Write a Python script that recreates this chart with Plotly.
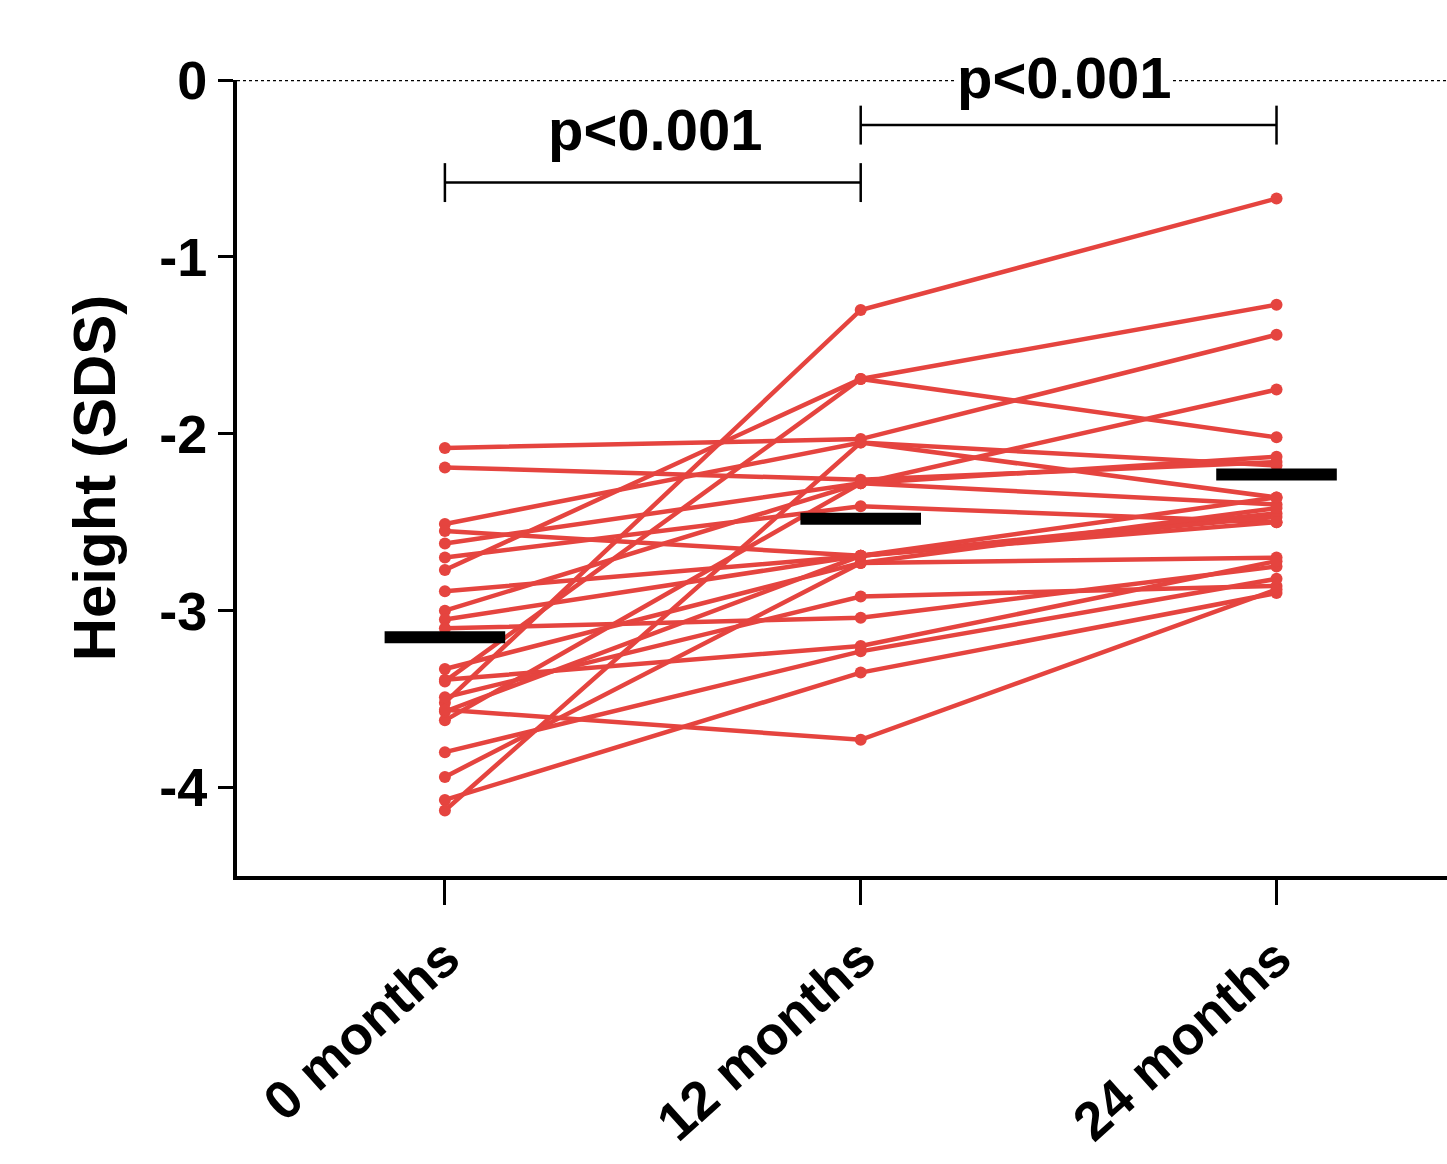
import plotly.graph_objects as go

# ---- data ----
time_labels = ["0 months", "12 months", "24 months"]
time_pos = [0, 1, 2]

sds_0m = [-3.52, -2.77, -3.40, -2.08, -2.19, -3.62, -2.51, -2.62, -2.70, -2.89, -3.00, -3.05,
          -3.10, -3.33, -3.39, -3.49, -3.57, -3.80, -3.94, -4.07, -4.13, -3.56, -2.55]
sds_12m = [-1.30, -1.69, -1.69, -2.03, -2.26, -2.28, -2.05, -2.28, -2.41, -2.69, -2.28, -2.69,
           -3.04, -2.73, -3.20, -2.92, -2.69, -3.23, -2.73, -3.35, -2.05, -3.73, -2.69]
sds_24m = [-0.67, -1.27, -2.02, -1.44, -2.16, -1.75, -2.36, -2.13, -2.50, -2.45, -2.40, -2.47,
           -2.75, -2.70, -2.72, -2.86, -2.50, -2.82, -2.42, -2.90, -2.18, -2.88, -2.36]

mean_sds = [-3.15, -2.48, -2.23]

p_labels = ["p<0.001", "p<0.001"]

RED = "#E5443F"
FONT = "Liberation Sans, Arial, sans-serif"

fig = go.Figure()

for a, b, c in zip(sds_0m, sds_12m, sds_24m):
    fig.add_trace(go.Scatter(
        x=time_pos, y=[a, b, c], mode="lines+markers",
        line=dict(color=RED, width=4.5),
        marker=dict(color=RED, size=12),
        showlegend=False, hoverinfo="skip", cliponaxis=False))

# mean bars
half = 0.145
for xp, m in zip(time_pos, mean_sds):
    fig.add_trace(go.Scatter(
        x=[xp - half, xp + half], y=[m, m], mode="lines",
        line=dict(color="black", width=12),
        showlegend=False, hoverinfo="skip"))

# dotted reference line at 0
fig.add_shape(type="line", xref="paper", yref="y", x0=0, x1=1, y0=0, y1=0,
              line=dict(color="black", width=2.5, dash="3px,3px"), layer="below")

# significance brackets
brackets = [(0, 1, -0.58, 0.11), (1, 2, -0.255, 0.11)]
for x0, x1, yb, tick in brackets:
    fig.add_shape(type="line", x0=x0, x1=x1, y0=yb, y1=yb, line=dict(color="black", width=2.5))
    fig.add_shape(type="line", x0=x0, x1=x0, y0=yb - tick, y1=yb + tick, line=dict(color="black", width=2.5))
    fig.add_shape(type="line", x0=x1, x1=x1, y0=yb - tick, y1=yb + tick, line=dict(color="black", width=2.5))

fig.add_annotation(x=0.505, y=-0.28, text=p_labels[0], showarrow=False,
                   font=dict(family=FONT, size=58, color="black", weight=700),
                   xanchor="center", yanchor="middle")
fig.add_annotation(x=1.49, y=1.003, yref="paper", text=p_labels[1], showarrow=False,
                   font=dict(family=FONT, size=58, color="black", weight=700),
                   xanchor="center", yanchor="middle", bgcolor="white", borderpad=0)

fig.update_layout(
    width=1447, height=1164,
    margin=dict(l=237, r=0, t=80, b=288),
    paper_bgcolor="white", plot_bgcolor="white",
    font=dict(family=FONT, color="black"),
    xaxis=dict(
        range=[-0.5, 2.41], tickmode="array", tickvals=time_pos, ticktext=time_labels,
        tickangle=-42, ticks="outside", ticklen=25, tickwidth=3, tickcolor="black",
        showline=True, linewidth=4, linecolor="black", showgrid=False, zeroline=False,
        tickfont=dict(family=FONT, size=54, color="black", weight=700),
        ticklabelstandoff=0, automargin=False,
    ),
    yaxis=dict(
        range=[-4.5, 0], tickmode="array", tickvals=[0, -1, -2, -3, -4],
        ticktext=["0", "-1", "-2", "-3", "-4"],
        ticks="outside", ticklen=15, tickwidth=3, tickcolor="black",
        showline=True, linewidth=4, linecolor="black", showgrid=False, zeroline=False,
        tickfont=dict(family=FONT, size=54, color="black", weight=700),
        automargin=False,
        title=dict(text="Height (SDS)", standoff=25,
                   font=dict(family=FONT, size=60, color="black", weight=700)),
    ),
)

fig.write_html("out.html")
